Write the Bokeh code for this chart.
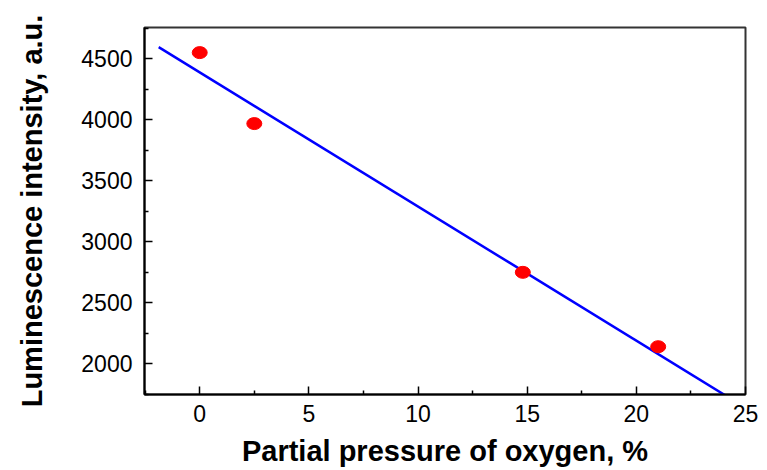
from bokeh.plotting import figure
from bokeh.models import Range1d, FixedTicker, ColumnDataSource
from bokeh.embed import file_html
from bokeh.resources import INLINE

# Data
oxygen_pct = [0.0, 2.5, 14.8, 21.0]
intensity = [4550, 3968, 2748, 2138]
fit_x = [-1.88, 24.31]
fit_y = [4595, 1713]
x_ticks = [0, 5, 10, 15, 20, 25]
x_minor = [-2.5, 2.5, 7.5, 12.5, 17.5, 22.5]
y_ticks = [2000, 2500, 3000, 3500, 4000, 4500]
y_minor = [1750, 2250, 2750, 3250, 3750, 4250, 4750]

FONT = "Liberation Sans"

p = figure(
    width=767, height=470,
    frame_width=601, frame_height=367,
    min_border_left=144, min_border_right=22,
    min_border_top=27, min_border_bottom=76,
    x_range=Range1d(-2.53, 25.0), y_range=Range1d(1746, 4756),
    output_backend="svg", toolbar_location=None,
)
p.background_fill_color = "white"
p.border_fill_color = "white"
p.grid.visible = False
p.outline_line_color = "#333333"
p.outline_line_width = 2

p.line(fit_x, fit_y, line_color="#0000ff", line_width=2.5)
src = ColumnDataSource(dict(x=oxygen_pct, y=intensity))
p.ellipse(x="x", y="y", width=15, height=12, width_units="screen",
          height_units="screen", source=src, fill_color="#ff0000",
          line_color="#ff0000")

for ax in (p.xaxis[0], p.yaxis[0]):
    ax.axis_line_width = 2
    ax.axis_line_color = "black"
    ax.major_tick_in = 8
    ax.major_tick_out = 0
    ax.minor_tick_in = 4
    ax.minor_tick_out = 0
    ax.major_tick_line_width = 1.5
    ax.minor_tick_line_width = 1.5
    ax.major_tick_line_color = "black"
    ax.minor_tick_line_color = "black"
    ax.major_label_text_font = FONT
    ax.major_label_text_font_size = "23px"
    ax.major_label_text_color = "black"
    ax.axis_label_text_font = FONT
    ax.axis_label_text_font_size = "29px"
    ax.axis_label_text_font_style = "bold"
    ax.axis_label_text_color = "black"

p.xaxis[0].ticker = FixedTicker(ticks=x_ticks, minor_ticks=x_minor)
p.yaxis[0].ticker = FixedTicker(ticks=y_ticks, minor_ticks=y_minor)
p.xaxis[0].axis_label = "Partial pressure of oxygen, %"
p.yaxis[0].axis_label = "Luminescence intensity, a.u."
p.xaxis[0].major_label_standoff = 10
p.yaxis[0].major_label_standoff = 12
p.xaxis[0].axis_label_text_line_height = 0.8
p.xaxis[0].axis_label_standoff = 10
p.yaxis[0].axis_label_standoff = 30

open("out.html", "w").write(file_html(p, INLINE))
